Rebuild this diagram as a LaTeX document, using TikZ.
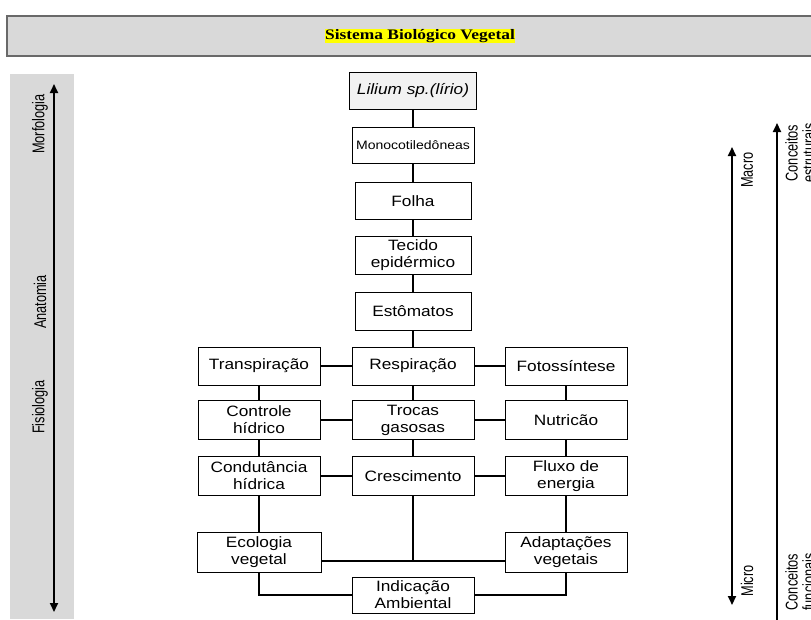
\documentclass[tikz,border=0pt]{standalone}
\usepackage{fontspec}
\setmainfont{Liberation Sans}
\newfontfamily\boxfont[FakeStretch=1.15]{Liberation Sans}
\newfontfamily\sidefont[FakeStretch=0.75]{Liberation Sans}
\newfontfamily\headfont[FakeStretch=1.2]{Liberation Serif}
\usetikzlibrary{arrows.meta}
\definecolor{panelgray}{RGB}{217,217,217}
\definecolor{liliumfill}{RGB}{242,242,242}
\definecolor{framegray}{RGB}{105,105,105}
\definecolor{marker}{RGB}{255,255,0}

\begin{document}
\begin{tikzpicture}[x=1pt,y=-1pt,
    every node/.style={font=\boxfont\fontsize{15}{17}\selectfont},
    box/.style={draw,line width=1pt,fill=white,minimum width=122pt,minimum height=38pt,inner sep=2pt,align=center},
    link/.style={line width=2.6pt},
    axis/.style={line width=2pt,{Triangle[width=8pt,length=9pt]}-{Triangle[width=8pt,length=9pt]}},
    upaxis/.style={line width=2pt,-{Triangle[width=8pt,length=9pt]}},
    side/.style={rotate=90,align=center,font=\sidefont\fontsize{17}{17}\selectfont}]
  \useasboundingbox (0,0) rectangle (811,619);
  \clip (0,0) rectangle (811,619);
  % panels
  \fill[panelgray] (10,74) rectangle (74,619);
  \draw[line width=1.4pt,draw=framegray,fill=panelgray] (7,16) rectangle (822,56);
  \node[font=\headfont\bfseries\fontsize{14.5}{16}\selectfont,fill=marker,inner sep=.5pt] (title) at (420,36) {Sistema Biológico Vegetal};
  % scales
  \coordinate (ltop) at (54,84);
  \coordinate (lbot) at (54,612);
  \draw[axis] (lbot) -- (ltop);
  \node[side] (morf) at (40,124) {Morfologia};
  \node[side] (anat) at (40,302) {Anatomia};
  \node[side] (fisio) at (40,407) {Fisiologia};
  \coordinate (mtop) at (732,147);
  \coordinate (mbot) at (732,605);
  \draw[axis] (mbot) -- (mtop);
  \node[side] (macro) at (747,170) {Macro};
  \node[side] (micro) at (747,581) {Micro};
  \coordinate (ctop) at (777,123);
  \coordinate (cbot) at (777,625);
  \draw[upaxis] (cbot) -- (ctop);
  \node[side] (cest) at (800,153) {Conceitos\\estruturais};
  \node[side] (cfun) at (800,582) {Conceitos\\funcionais};
  % central column
  \node[box,fill=liliumfill,minimum width=127pt,minimum height=37pt,font=\boxfont\itshape\fontsize{15}{17}\selectfont] (lil) at (413,91) {Lilium sp.(lírio)};
  \node[box,minimum height=36pt,font=\boxfont\fontsize{12.2}{14}\selectfont] (mon) at (413,145) {Monocotiledôneas};
  \node[box,minimum width=116pt,minimum height=37pt] (fol) at (413,201) {Folha};
  \node[box,minimum width=116pt] (tec) at (413,255) {Tecido\\epidérmico};
  \node[box,minimum width=116pt] (est) at (413,311) {Estômatos};
  % process grid
  \node[box] (tra) at (259,366) {Transpiração};
  \node[box] (res) at (413,366) {Respiração};
  \node[box] (fot) at (566,366) {Fotossíntese};
  \node[box,minimum height=39pt] (con) at (259,420) {Controle\\hídrico};
  \node[box,minimum height=39pt] (tro) at (413,420) {Trocas\\gasosas};
  \node[box,minimum height=39pt] (nut) at (566,420) {Nutricão};
  \node[box,minimum height=39pt] (cdt) at (259,476) {Condutância\\hídrica};
  \node[box,minimum height=39pt] (cre) at (413,476) {Crescimento};
  \node[box,minimum height=39pt] (flu) at (566,476) {Fluxo de\\energia};
  \node[box,minimum width=124pt,minimum height=40pt] (eco) at (259,552) {Ecologia\\vegetal};
  \node[box,minimum height=40pt] (adp) at (566,552) {Adaptações\\vegetais};
  \node[box,minimum height=36pt] (ind) at (413,595) {Indicação\\Ambiental};
  \coordinate (join) at (413,561);
  % links
  \draw[link] (lil) -- (mon) -- (fol) -- (tec) -- (est) -- (res) -- (tro) -- (cre) -- (join);
  \draw[link] (tra) -- (res) -- (fot);
  \draw[link] (con) -- (tro) -- (nut);
  \draw[link] (cdt) -- (cre) -- (flu);
  \draw[link] (tra) -- (con) -- (cdt) -- (eco);
  \draw[link] (fot) -- (nut) -- (flu) -- (adp);
  \draw[link] (eco.east |- join) -- (adp.west |- join);
  \draw[link] (eco.south) |- (ind.west);
  \draw[link] (adp.south) |- (ind.east);
\end{tikzpicture}
\end{document}
